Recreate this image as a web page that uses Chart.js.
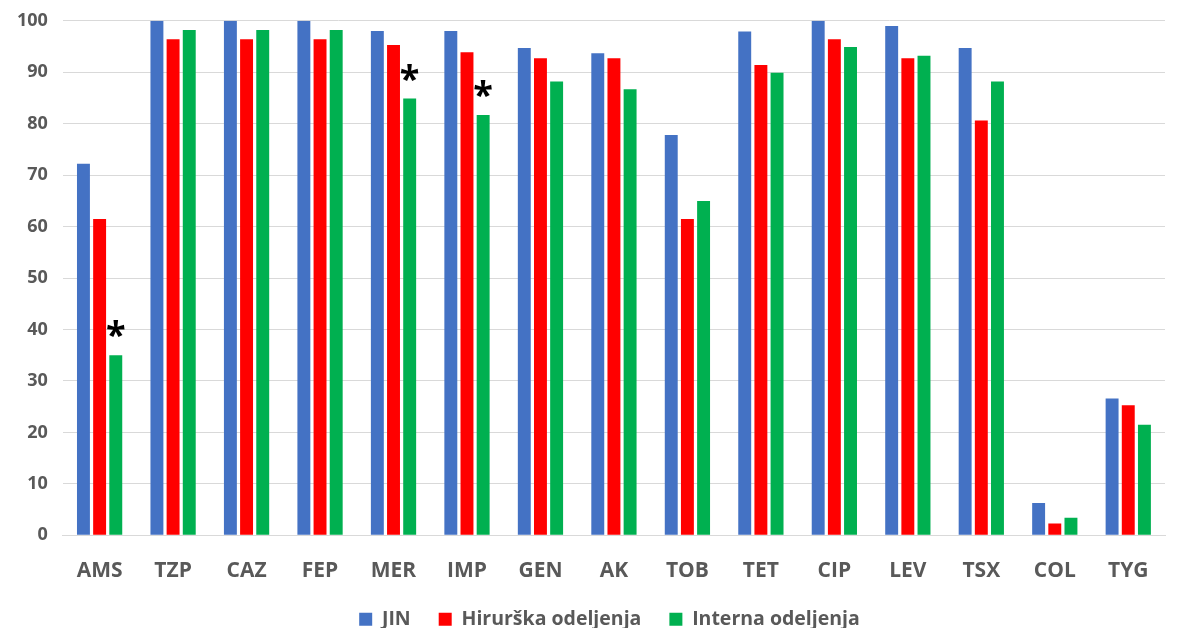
<!DOCTYPE html>
<html>
<head>
<meta charset="utf-8">
<script src="https://cdn.jsdelivr.net/npm/chart.js@4"></script>
<style>
body{margin:0;background:#fff;overflow:hidden;}
#canvas{display:block;margin-top:-5px;}
</style>
</head>
<body>
<canvas id="canvas" width="1183" height="644"></canvas>
<script>
var labels = ["AMS","TZP","CAZ","FEP","MER","IMP","GEN","AK","TOB","TET","CIP","LEV","TSX","COL","TYG"];
var jin = [72.2,100,100,100,98,98,94.7,93.7,77.8,97.9,100,99,94.7,6.3,26.6];
var hirurska = [61.5,96.4,96.4,96.4,95.3,93.9,92.7,92.7,61.5,91.4,96.4,92.7,80.6,2.3,25.3];
var interna = [35,98.2,98.2,98.2,84.9,81.7,88.2,86.7,65,89.9,94.9,93.2,88.2,3.4,21.5];
var starred = [0,4,5];	// kategorije sa * iznad Interna

var fontFam = "'Open Sans', 'Liberation Sans', sans-serif";

var starPlugin = {
	id: 'stars',
	beforeDraw: function(chart){
		// legenda malo udesno, kao u originalu
		chart.legend.left += 26;
		chart.legend.right += 26;
	},
	afterDraw: function(chart){
		chart.legend.left -= 26;
		chart.legend.right -= 26;
	},
	afterDatasetsDraw: function(chart){
		var ctx = chart.ctx;
		var meta = chart.getDatasetMeta(2);
		ctx.save();
		ctx.fillStyle = "#000";
		ctx.font = "bold 36px " + fontFam;
		ctx.textAlign = "center";
		ctx.textBaseline = "middle";
		for(var i = 0; i < starred.length; i++){
			var bar = meta.data[starred[i]];
			ctx.fillText("*", bar.x, bar.y - 18);
		}
		ctx.restore();
	}
};

var ctx = document.getElementById("canvas").getContext("2d");
var chart = new Chart(ctx, {
	type: 'bar',
	data: {
		labels: labels,
		datasets: [
			{label: "JIN", data: jin, backgroundColor: "#4472C4"},
			{label: "Hirurška odeljenja", data: hirurska, backgroundColor: "#FF0000"},
			{label: "Interna odeljenja", data: interna, backgroundColor: "#00B050"}
		]
	},
	options: {
		responsive: false,
		animation: false,
		layout: {padding: {left: 2, right: 18, top: 0, bottom: 0}},
		datasets: {bar: {categoryPercentage: 0.66, barPercentage: 0.8}},
		plugins: {
			legend: {
				position: 'bottom',
				labels: {
					color: "#595959",
					font: {family: fontFam, size: 19.5, weight: 'bold'},
					boxWidth: 13, boxHeight: 13, padding: 28
				}
			},
			tooltip: {enabled: false}
		},
		scales: {
			x: {
				grid: {display: false},
				border: {color: "#D9D9D9", width: 1},
				ticks: {color: "#595959", font: {family: fontFam, size: 21, weight: 'bold'}, padding: 15},
				afterFit: function(scale){ scale.height -= 17; }
			},
			y: {
				min: 0, max: 100,
				grid: {color: "#D9D9D9", lineWidth: 1, drawTicks: false},
				border: {display: false},
				ticks: {stepSize: 10, color: "#595959", font: {family: fontFam, size: 18, weight: 'bold'}, padding: 15}
			}
		}
	},
	plugins: [starPlugin]
});
</script>
</body>
</html>
